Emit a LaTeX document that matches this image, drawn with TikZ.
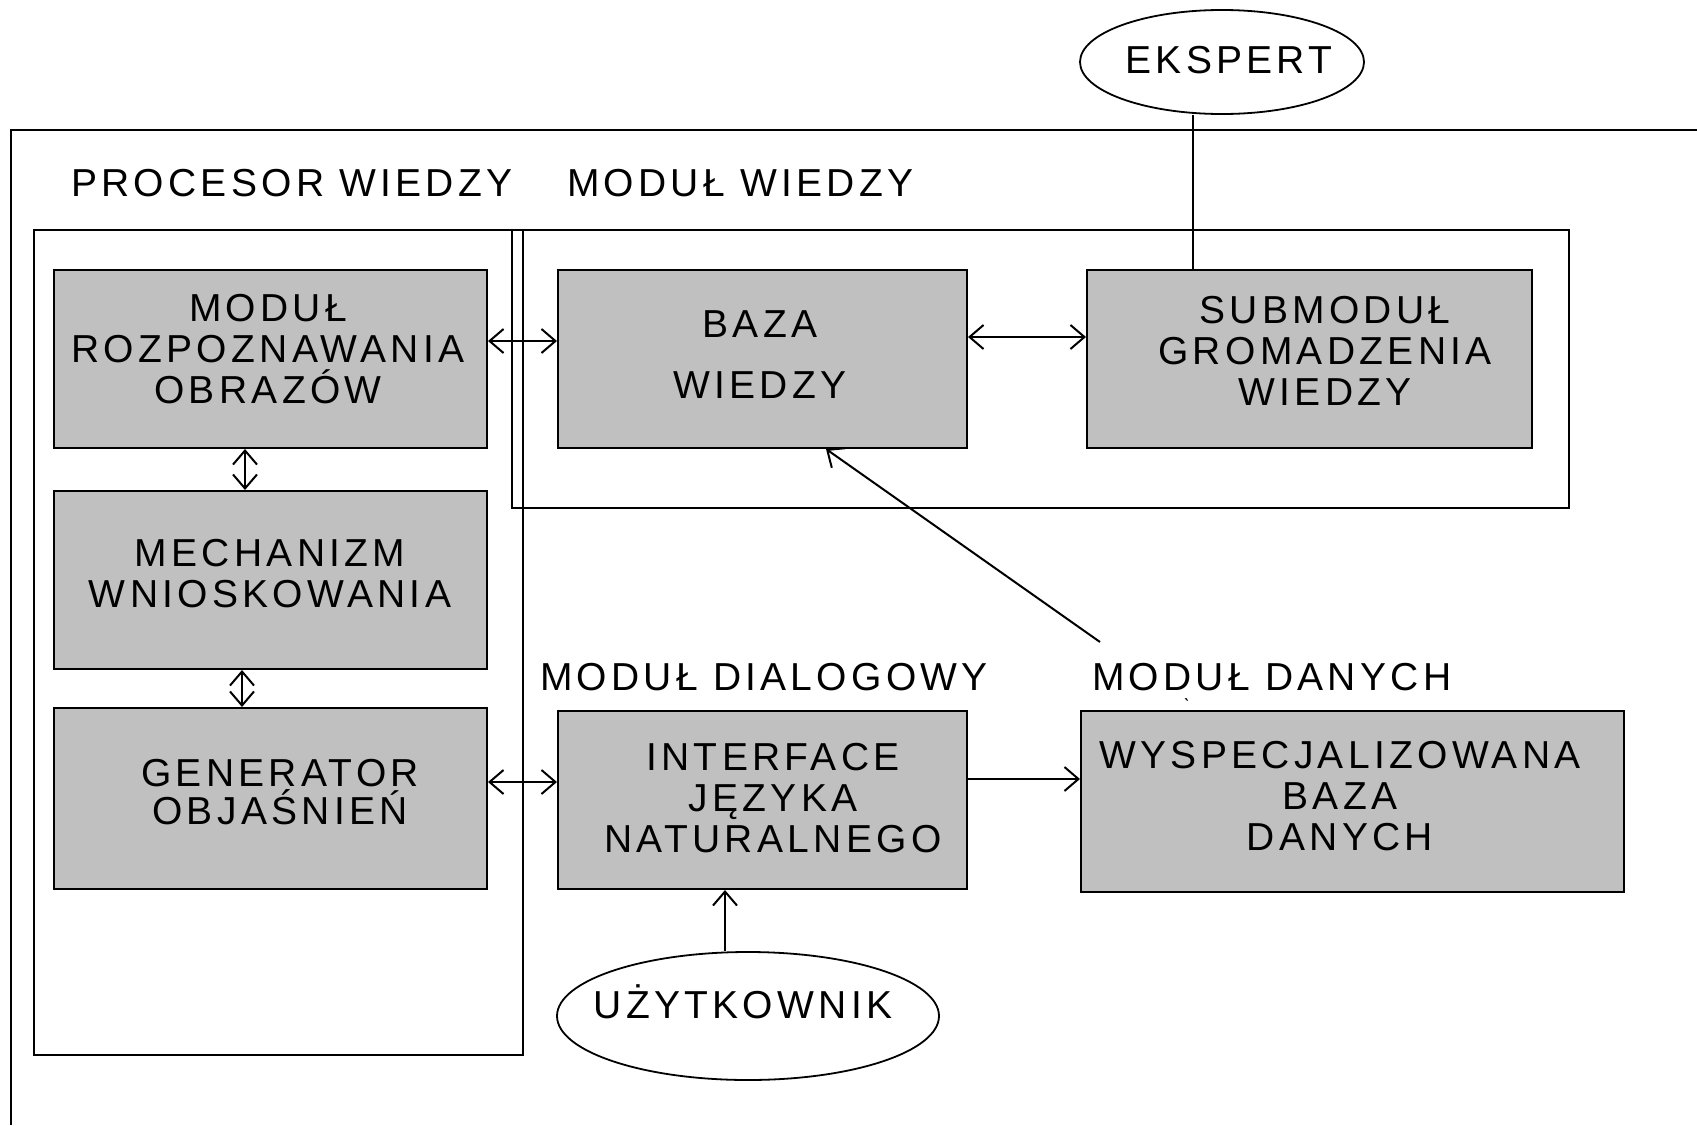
\documentclass[tikz,border=0pt]{standalone}
\usepackage{fontspec}
\setmainfont{Liberation Sans}[LetterSpace=11]
\usetikzlibrary{arrows.meta,shapes.geometric}
\definecolor{szary}{RGB}{192,192,192}
\begin{document}
\begin{tikzpicture}[x=0.5pt,y=-0.5pt,line width=1pt,>={Straight Barb[length=7pt,width=12pt]}]
\tikzstyle{blok}=[rectangle, draw=black, fill=szary, line width=1pt, inner sep=0]
\tikzstyle{owal}=[ellipse, draw=black, line width=0.9pt, inner sep=0]
\tikzstyle{napis}=[inner sep=0, align=center, font=\fontsize{19.5}{20.5}\selectfont]
\useasboundingbox (0,0) rectangle (1697,1125);
% ramy
\draw (1697,130)--(11,130)--(11,1125);
\draw (34,230) rectangle (523,1055);
\draw (512,230) rectangle (1569,508);
% bloki
\node[blok, minimum width=216.5pt, minimum height=89pt] (rozp) at (270.5,359){};
\node[blok, minimum width=216.5pt, minimum height=89pt] (mech) at (270.5,580){};
\node[blok, minimum width=216.5pt, minimum height=90.5pt] (gen) at (270.5,798.5){};
\node[blok, minimum width=204.5pt, minimum height=89pt] (baza) at (762.5,359){};
\node[blok, minimum width=222.5pt, minimum height=89pt] (submod) at (1309.5,359){};
\node[blok, minimum width=204.5pt, minimum height=89pt] (inter) at (762.5,800){};
\node[blok, minimum width=271.5pt, minimum height=90.5pt] (wysp) at (1352.5,801.5){};
\node[owal, minimum width=142pt, minimum height=52pt] (ekspert) at (1222,62){};
\node[owal, minimum width=191pt, minimum height=64pt] (uzyt) at (748,1016){};
% napisy
\node[napis, anchor=base west] (tprocesor) at (70,196){PROCESOR WIEDZY};
\node[napis, anchor=base west] (twiedza) at (566,196){MODUŁ WIEDZY};
\node[napis, anchor=base west] (tdialog) at (539,690){MODUŁ DIALOGOWY};
\node[napis, anchor=base west] (tdane) at (1091,690){MODUŁ DANYCH};
\node[napis, anchor=north] (trozp) at (268,293){MODUŁ\\ROZPOZNAWANIA\\OBRAZÓW};
\node[napis, anchor=north, font=\fontsize{19.5}{30.5}\selectfont] (tbaza) at (760,310){BAZA\\WIEDZY};
\node[napis, anchor=north] (tsubmod) at (1325,295){SUBMODUŁ\\GROMADZENIA\\WIEDZY};
\node[napis, anchor=north] (tmech) at (270,538){MECHANIZM\\WNIOSKOWANIA};
\node[napis, anchor=north, font=\fontsize{19.5}{19}\selectfont] (tgen) at (280,758){GENERATOR\\OBJAŚNIEŃ};
\node[napis, anchor=north] (tinter) at (773,742){INTERFACE\\JĘZYKA\\NATURALNEGO};
\node[napis, anchor=north] (twysp) at (1340,740){WYSPECJALIZOWANA\\BAZA\\DANYCH};
\node[napis, anchor=base] (tekspert) at (1229,73){EKSPERT};
\node[napis, anchor=base] (tuzyt) at (743,1018){UŻYTKOWNIK};
\node[inner sep=0, font=\fontsize{10}{10}\selectfont] (kreska) at (1187,708){\`{}};
% polaczenia
\draw[<->] (rozp.east |- 0,341)--(baza.west |- 0,341);
\draw[<->] (baza.east |- 0,337)--(submod.west |- 0,337);
\draw[<->] (rozp.south -| 245,0)--(mech.north -| 245,0);
\draw[<->] (mech.south -| 242,0)--(gen.north -| 242,0);
\draw[<->] (gen.east |- 0,782)--(inter.west |- 0,782);
\draw[->] (inter.east |- 0,779)--(wysp.west |- 0,779);
\draw[->] (uzyt.north -| 725,0)--(inter.south -| 725,0);
\draw (ekspert.south -| 1193,0)--(submod.north -| 1193,0);
\coordinate (poczatek) at (1100,642);
\draw[->] (poczatek)--(baza.south -| 826,0);
\end{tikzpicture}
\end{document}
